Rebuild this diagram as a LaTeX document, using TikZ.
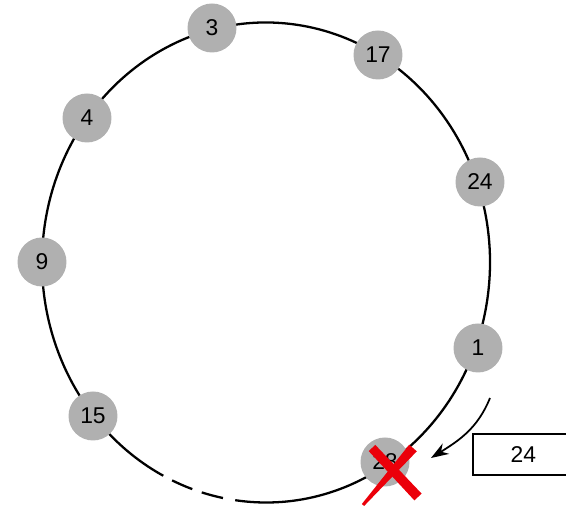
\documentclass[tikz,border=0pt]{standalone}
\usepackage{fontspec}
\setmainfont{Liberation Sans}
\usetikzlibrary{arrows.meta}
\definecolor{peergray}{RGB}{176,176,176}
\definecolor{crossred}{RGB}{235,0,10}
\tikzset{
  peer/.style={circle,fill=peergray,minimum size=0.98cm,inner sep=0pt,
               font=\fontsize{13}{15}\selectfont},
  ringline/.style={line width=1.3pt},
}

\begin{document}
\begin{tikzpicture}[x=0.02cm,y=0.02cm]
        \useasboundingbox (0,0) rectangle (566,506);
        \clip (0,0) rectangle (566,506);
        % the ring, with a broken stretch after 15
        \coordinate (ctr) at (266,243.5);
        \draw[ringline] (ctr) ++(-97.9:224 and 240)
              arc[start angle=-97.9,end angle=242.7,x radius=224,y radius=240];
        \draw[ringline,dash pattern=on 0pt off 5.7pt on 12.5pt off 5.7pt on 12.5pt off 20pt]
              (ctr) ++(242.7:224 and 240)
              arc[start angle=242.7,end angle=262.1,x radius=224,y radius=240];
        % peers on the ring
        \node[peer] (n3)  at (212,478) {3};
        \node[peer] (n17) at (378,451) {17};
        \node[peer] (n24) at (480,324) {24};
        \node[peer] (n1)  at (478,158) {1};
        \node[peer] (n28) at (385,44)  {28};
        \node[peer] (n15) at (93,90)   {15};
        \node[peer] (n9)  at (42,244)  {9};
        \node[peer] (n4)  at (87,388)  {4};
        % message (its box runs off the right edge) and its arrow
        \node[anchor=west,minimum width=2.3cm,minimum height=0.82cm,
              font=\fontsize{13}{15}\selectfont] (msg) at (473,51.5) {\hspace*{-0.3cm}24};
        \draw[line width=1pt] (msg.north east) -- (msg.north west)
              -- (msg.south west) -- (msg.south east);
        \coordinate (msgfrom) at (490,108);
        \coordinate (msgto) at (431,48);
        \draw[line width=1pt,-{Stealth[length=10pt,width=7pt]}]
              (msgfrom) to[out=-112,in=32] (msgto);
        % red cross over the failed peer
        \fill[crossred] (375.3,61.1) -- (421.6,12.4) -- (414.4,5.6) -- (368.7,54.9) -- cycle;
        \fill[crossred] (416.8,54.7) -- (364.1,0) -- (361.9,2) -- (409.2,61.3) -- cycle;
      \end{tikzpicture}
\end{document}
